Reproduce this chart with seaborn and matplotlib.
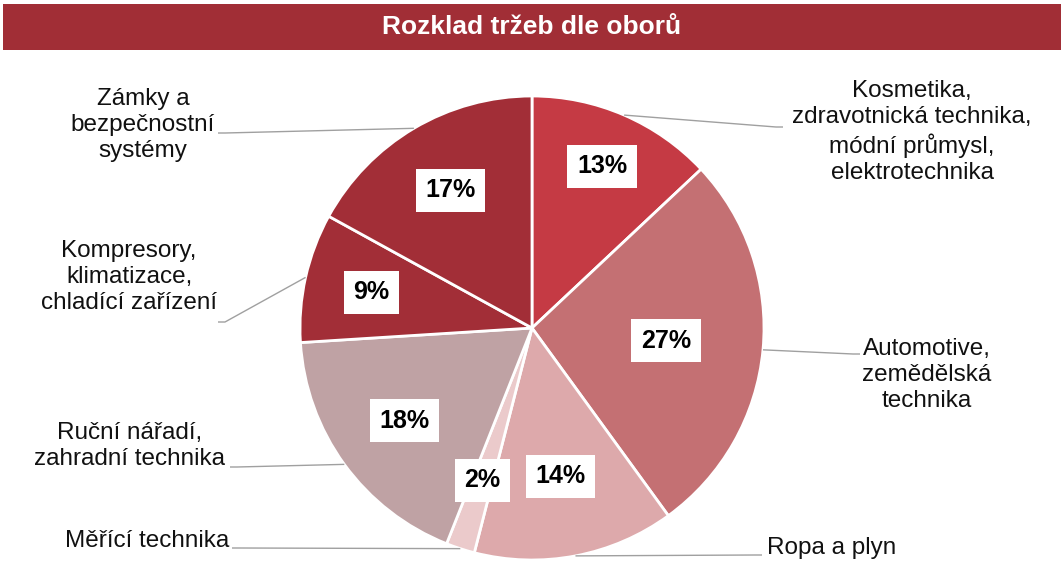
import matplotlib
matplotlib.use("Agg")
import matplotlib.pyplot as plt
from matplotlib.patches import Rectangle
import seaborn as sns
import numpy as np

# data
categories = [
    "Kosmetika,\nzdravotnická technika,\nmódní průmysl,\nelektrotechnika",
    "Automotive,\nzemědělská\ntechnika",
    "Ropa a plyn",
    "Měřící technika",
    "Ruční nářadí,\nzahradní technika",
    "Kompresory,\nklimatizace,\nchladící zařízení",
    "Zámky a\nbezpečnostní\nsystémy",
]
shares = [13, 27, 14, 2, 18, 9, 17]
title = "Rozklad tržeb dle oborů"

# styling / layout (pixel coordinates, y measured from the bottom)
colors = ["#C53A44", "#C47073", "#DDA9AB", "#EBCACB", "#BFA2A4", "#A22E37", "#A22E37"]
pct_dist = [0.76, 0.58, 0.65, 0.69, 0.68, 0.71, 0.69]
# (text x, text y, ha, anchor x, anchor y)
label_pos = [
    (912, 444, "center", 783, 449),
    (927, 201, "center", 860, 222),
    (767, 28, "left", 762, 21),
    (229, 35, "right", 232, 28),
    (130, 130, "center", 230, 109),
    (129, 299, "center", 218, 254),
    (143, 451, "center", 218, 443),
]
W, H = 1064, 576
cx, cy, r = 532, 248, 232

sns.set_theme(style="white")
plt.rcParams["font.family"] = ["Liberation Sans", "DejaVu Sans"]

fig = plt.figure(figsize=(W / 100, H / 100), dpi=100)
ax = fig.add_axes([0, 0, 1, 1])

wedges, _ = ax.pie(shares, colors=colors, startangle=90, counterclock=False,
                   center=(cx, cy), radius=r,
                   wedgeprops=dict(edgecolor="white", linewidth=2))
ax.set_xlim(0, W)
ax.set_ylim(0, H)
ax.set_aspect("equal")
ax.axis("off")

for w, val, d, lab, (tx, ty, ha, axx, ayy) in zip(wedges, shares, pct_dist, categories, label_pos):
    mid = np.deg2rad((w.theta1 + w.theta2) / 2)
    px, py = cx + d * r * np.cos(mid), cy + d * r * np.sin(mid)
    ax.text(px, py, f"{val}%", ha="center", va="center", fontsize=18,
            fontweight="bold", color="black",
            bbox=dict(boxstyle="square,pad=0.38", fc="white", ec="none"))
    ex, ey = cx + r * np.cos(mid), cy + r * np.sin(mid)
    step = 7 if ex > axx else -7
    ax.plot([axx, axx + step, ex], [ayy, ayy, ey], color="#A0A0A0", lw=1,
            solid_capstyle="butt")
    ax.text(tx, ty, lab, ha=ha, va="center", multialignment="center",
            fontsize=17.5, color="#111111", linespacing=1.26)

ax.add_patch(Rectangle((3, 526), 1058, 46, fc="#A12E36", ec="none"))
ax.text(W / 2, 549, title, ha="center", va="center", fontsize=19,
        fontweight="bold", color="white")

fig.savefig("out.png", dpi=100)
